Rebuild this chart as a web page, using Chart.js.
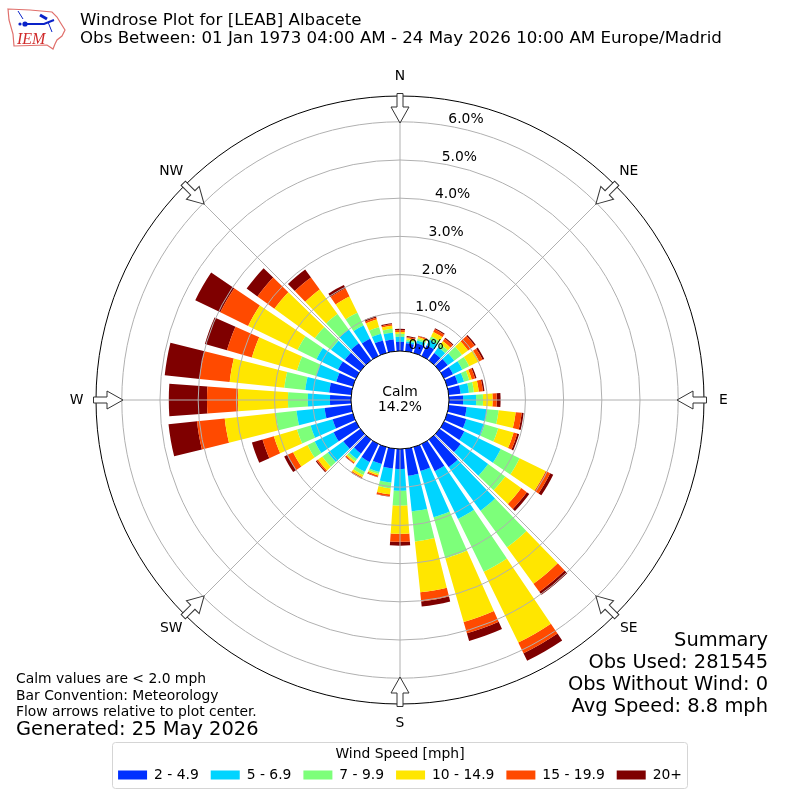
<!DOCTYPE html>
<html><head><meta charset="utf-8">
<style>html,body{margin:0;padding:0;background:#fff}canvas{display:block}</style>
<script src="https://cdn.jsdelivr.net/npm/chart.js@4"></script>
</head><body><canvas id="c" width="800" height="800"></canvas>
<script>
const directions = [0,10,20,30,40,50,60,70,80,90,100,110,120,130,140,150,160,170,180,190,200,210,220,230,240,250,260,270,280,290,300,310,320,330,340,350];
const s2to49 = [.24,.21,.26,.31,.24,.26,.26,.29,.31,.37,.47,.52,.59,.68,.89,.79,.65,.71,.52,.52,.46,.52,.45,.55,.65,.55,.70,.55,.58,.45,.52,.50,.55,.50,.34,.31];
const s5to69 = [.13,.05,.08,.16,.18,.21,.27,.17,.22,.34,.54,.50,1.06,.89,1.41,1.39,1.26,.94,.57,.37,.22,.29,.18,.50,.55,.60,.74,.58,.63,.55,.63,.45,.45,.39,.18,.18];
const s7to99 = [.08,.04,.05,.10,.10,.25,.20,.14,.13,.18,.30,.37,.55,.55,1.18,1.54,1.12,.79,.39,.15,.05,.09,.07,.18,.21,.37,.55,.52,.55,.52,.55,.52,.50,.37,.18,.10];
const s10to149 = [.05,.04,.04,.13,.10,.20,.29,.07,.13,.25,.45,.42,.76,.52,1.18,2.06,1.73,1.34,.74,.16,.04,.06,.04,.14,.42,.63,1.34,1.31,1.44,1.23,1.44,1.31,.79,.47,.21,.08];
const s15to199 = [.05,.03,.03,.08,.08,.21,.10,.09,.11,.11,.16,.10,.13,.18,.26,.31,.31,.24,.21,.05,.04,.04,.03,.04,.16,.31,.73,.81,.79,.68,.81,.55,.39,.24,.05,.04];
const s20plus = [.03,.03,.01,.03,.03,.04,.05,.04,.04,.10,.05,.05,.09,.08,.10,.22,.21,.13,.10,.01,.01,.01,.01,.03,.10,.29,.75,1.0,.92,.60,.73,.35,.26,.10,.05,.03];
const speedLabels = ['2 - 4.9','5 - 6.9','7 - 9.9','10 - 14.9','15 - 19.9','20+'];
const speedColors = ['#0030FF','#00D4FF','#7DFF7A','#FFE600','#FF4A00','#7F0000'];
const rTicks = [0,1,2,3,4,5,6];
const compass = ['N','NE','E','SE','S','SW','W','NW'];
const titleLines = ['Windrose Plot for [LEAB] Albacete','Obs Between: 01 Jan 1973 04:00 AM - 24 May 2026 10:00 AM Europe/Madrid'];
const noteLines = ['Calm values are < 2.0 mph','Bar Convention: Meteorology','Flow arrows relative to plot center.'];
const generated = 'Generated: 25 May 2026';
const summaryLines = ['Summary','Obs Used: 281545','Obs Without Wind: 0','Avg Speed: 8.8 mph'];
const calmLines = ['Calm','14.2%'];

const R_MIN = -1.283, R_MAX = 6.675, BAR_DEG = 8, GAP_DEG = 2;
const FONT = '"DejaVu Sans"';
const series = [s2to49,s5to69,s7to99,s10to149,s15to199,s20plus];

// Polar area controller whose arcs start at the top of the previous speed class
class WindRoseController extends Chart.PolarAreaController {
  updateElements(arcs,start,count,mode){
    super.updateElements(arcs,start,count,mode);
    const inner=this.getDataset().inner,scale=this._cachedMeta.rScale;
    for(let i=start;i<start+count;i++){arcs[i].innerRadius=scale.getDistanceFromCenterForValue(inner[i]);}
  }
}
WindRoseController.id='windRose';
WindRoseController.defaults=Chart.PolarAreaController.defaults;
WindRoseController.overrides=Chart.PolarAreaController.overrides;
Chart.register(WindRoseController);

const running = directions.map(()=>0);
const slotLabels = directions.flatMap(d=>[String(d),'']);
const toSlots = a => a.flatMap(v=>[v,R_MIN]);
const datasets = series.map((vals,k)=>{
  const inner=toSlots(running);
  vals.forEach((v,i)=>{running[i]+=v;});
  return {label:speedLabels[k],data:toSlots(running),inner,backgroundColor:speedColors[k],borderWidth:0,
    angle:ctx=>ctx.index%2===0?BAR_DEG:GAP_DEG};
});

function polar(scale,deg,r){const a=deg*Math.PI/180;return [scale.xCenter+Math.sin(a)*r,scale.yCenter-Math.cos(a)*r];}
function text(ctx,s,x,y,size,align,base,color,fontStr){
  ctx.font=fontStr||(size+'px '+FONT);ctx.textAlign=align||'left';ctx.textBaseline=base||'middle';
  ctx.fillStyle=color||'#000';ctx.fillText(s,x,y);
}
function drawLogo(ctx){
  ctx.save();
  ctx.strokeStyle='#e0706c';ctx.lineWidth=1.2;ctx.beginPath();
  [[8,9],[30,10],[52,12],[57,17],[60,22],[65,30],[62,36],[57,40],[55,44],[53,49],[47,45],[14,46],[13,34],[9,20]].forEach((p,i)=>i?ctx.lineTo(p[0],p[1]):ctx.moveTo(p[0],p[1]));
  ctx.closePath();ctx.stroke();
  ctx.strokeStyle='#0a22c8';ctx.fillStyle='#0a22c8';ctx.lineWidth=2;
  ctx.beginPath();ctx.moveTo(25,24);ctx.lineTo(44,24);ctx.lineTo(54,20);ctx.stroke();
  ctx.lineWidth=3;ctx.beginPath();ctx.moveTo(40,15);ctx.lineTo(47,19);ctx.stroke();
  ctx.lineWidth=1;ctx.beginPath();ctx.moveTo(18,11);ctx.lineTo(23,19);ctx.moveTo(48,22);ctx.lineTo(52,32);ctx.stroke();
  ctx.beginPath();ctx.arc(25,24,2.6,0,7);ctx.fill();
  ctx.beginPath();ctx.arc(20,24,1.6,0,7);ctx.fill();
  ctx.restore();
  text(ctx,'IEM',17,44,16,'left','alphabetic','#d02b2b','italic 16px "Liberation Serif"');
}
const decor = {
  id:'decor',
  afterDatasetsDraw(chart){
    const s=chart.scales.r,ctx=chart.ctx,r0=s.getDistanceFromCenterForValue(0),r1=s.getDistanceFromCenterForValue(R_MAX);
    ctx.save();ctx.strokeStyle='#b0b0b0';ctx.lineWidth=1;
    compass.forEach((c,i)=>{const a=polar(s,i*45,r0),b=polar(s,i*45,r1);ctx.beginPath();ctx.moveTo(a[0],a[1]);ctx.lineTo(b[0],b[1]);ctx.stroke();});
    ctx.restore();
  },
  afterDraw(chart){
    const s=chart.scales.r,ctx=chart.ctx,rOut=s.getDistanceFromCenterForValue(R_MAX);
    ctx.save();
    // flow arrows on the eight compass directions
    compass.forEach((c,i)=>{
      const deg=i*45,a=deg*Math.PI/180;
      ctx.save();ctx.translate(s.xCenter,s.yCenter);ctx.rotate(a);
      ctx.beginPath();
      [[-3,-306.5],[3,-306.5],[3,-293],[9,-293],[0,-277],[-9,-293],[-3,-293]].forEach((p,j)=>j?ctx.lineTo(p[0],p[1]):ctx.moveTo(p[0],p[1]));
      ctx.closePath();ctx.fillStyle='#fff';ctx.fill();ctx.strokeStyle='#333';ctx.lineWidth=1;ctx.stroke();
      ctx.restore();
      const p=polar(s,deg,rOut+19.5);
      text(ctx,c,p[0],p[1],13.89,'center','middle');
    });
    // radial tick labels along the 10 degree spoke
    rTicks.forEach(v=>{
      const p=polar(s,10,s.getDistanceFromCenterForValue(v));
      text(ctx,v.toFixed(1)+'%',p[0],p[1]+0.5,13.89,'left','bottom');
    });
    text(ctx,calmLines[0],400,392,13.89,'center');
    text(ctx,calmLines[1],400,407,13.89,'center');
    text(ctx,titleLines[0],80,20.5,16.67);
    text(ctx,titleLines[1],80,38.5,16.67);
    noteLines.forEach((l,i)=>text(ctx,l,16,679.5+i*16.4,13.89));
    text(ctx,generated,16,729.5,19.44);
    summaryLines.forEach((l,i)=>text(ctx,l,768,641+i*22,19.44,'right'));
    // legend frame
    ctx.strokeStyle='#d5d5d5';ctx.lineWidth=1;ctx.beginPath();ctx.roundRect(112.5,742.5,575,46,3);ctx.stroke();
    drawLogo(ctx);
    ctx.restore();
  }
};
new Chart(document.getElementById('c'),{
  type:'windRose',
  data:{labels:slotLabels,datasets},
  plugins:[decor],
  options:{
    responsive:false,animation:false,devicePixelRatio:1,
    layout:{padding:{left:96,right:96,top:96,bottom:8}},
    scales:{r:{
      type:'radialLinear',
      min:R_MIN,max:R_MAX,startAngle:-BAR_DEG/2,
      angleLines:{display:false},pointLabels:{display:false},
      ticks:{display:false},
      afterBuildTicks:sc=>{sc.ticks=rTicks.concat([R_MAX]).map(v=>({value:v}));},
      grid:{circular:true,z:1,lineWidth:1,
        color:c=>(c.tick&&(c.tick.value===0||c.tick.value===R_MAX))?'#000':'#b0b0b0'}
    }},
    plugins:{
      tooltip:{enabled:false},
      legend:{position:'bottom',
        title:{display:true,text:'Wind Speed [mph]',color:'#000',font:{family:FONT,size:13.89},padding:{top:42,bottom:-8}},
        labels:{boxWidth:29,boxHeight:9,padding:12,color:'#000',font:{family:FONT,size:13.89},
          generateLabels:()=>speedLabels.map((t,i)=>({text:t,fillStyle:speedColors[i],strokeStyle:speedColors[i],lineWidth:0,hidden:false,datasetIndex:i}))}
      }
    }
  }
});
</script></body></html>
